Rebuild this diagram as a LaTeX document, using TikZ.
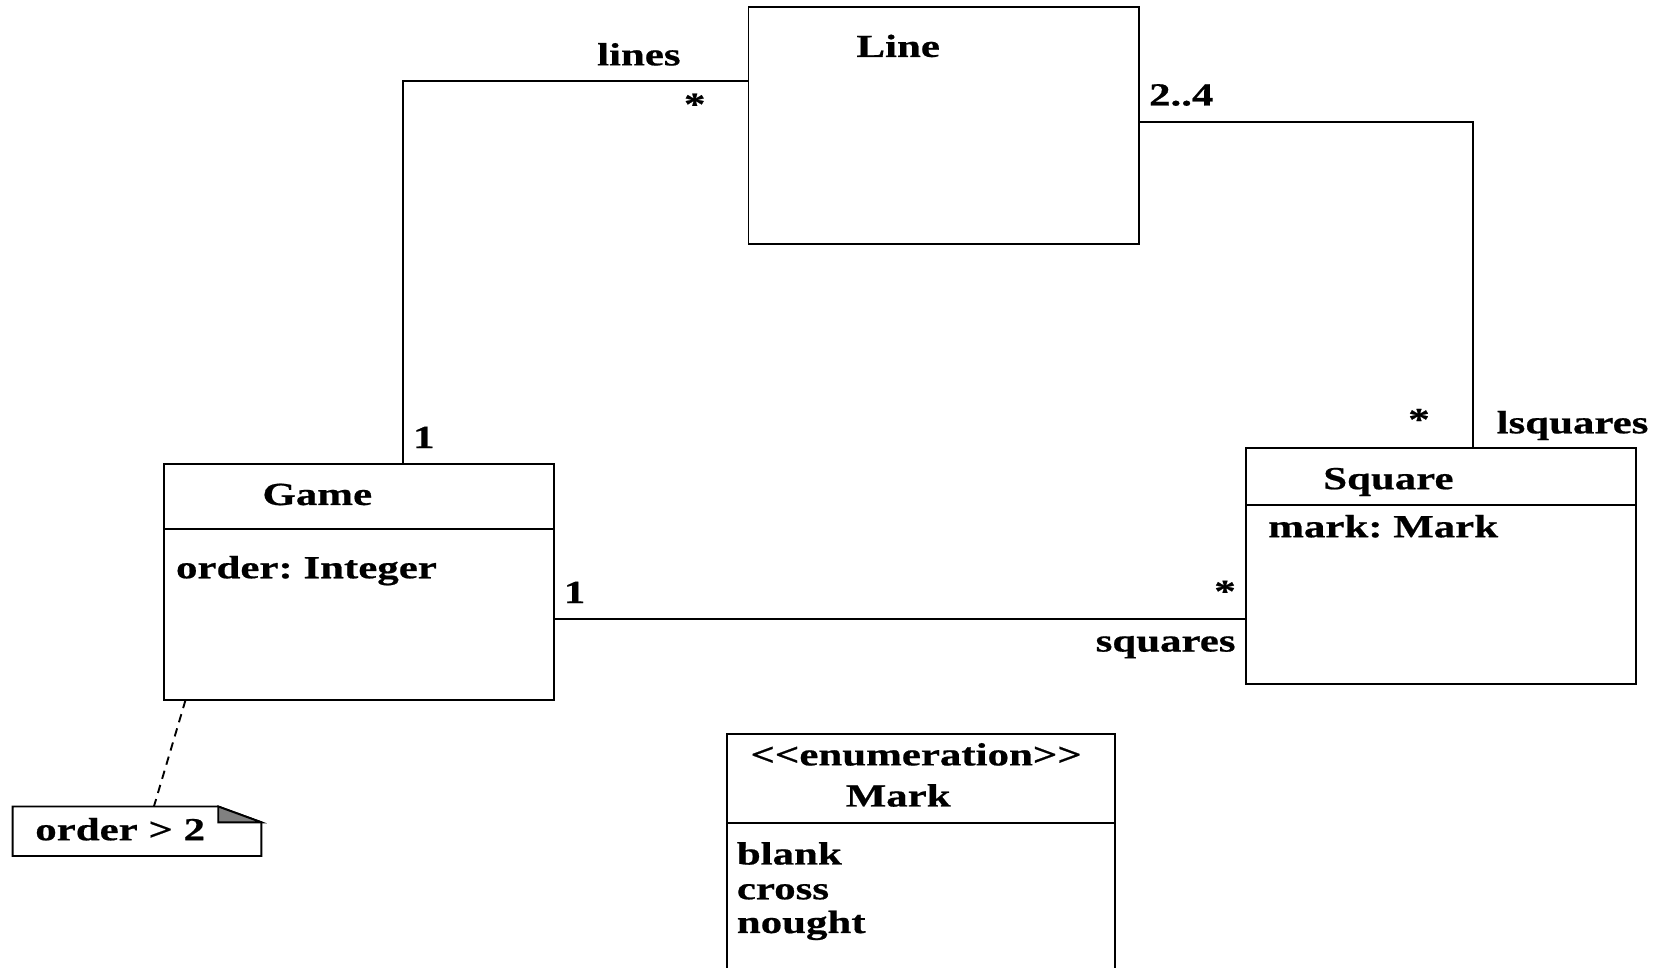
\documentclass[tikz,border=0pt]{standalone}
\usepackage{fontspec}
\setmainfont{Liberation Serif}[FakeStretch=1.334,BoldFeatures={FakeBold=0.6}]
\frenchspacing
\begin{document}
\begin{tikzpicture}[x=0.5pt,y=-0.5pt,
  line width=0.9pt,
  txt/.style={inner sep=0pt,outer sep=0pt,font=\fontsize{15.25pt}{16pt}\selectfont\bfseries},
  classbox/.style={draw,rectangle,inner sep=0pt,outer sep=0pt,minimum width=#1},
  classbox/.default=184.75pt,
  notedash/.style={dash pattern=on 4pt off 3pt}]
\useasboundingbox (0,0) rectangle (1568,918);

% class boxes
\node[classbox=185pt,minimum height=112.25pt] (line) at (895,119.25) {};
\node[classbox=184.75pt,minimum height=112pt] (game) at (340.5,552) {};
\node[classbox=184.8pt,minimum height=112pt] (square) at (1366.8,537) {};
\node[classbox=184pt,minimum height=119.5pt] (mark) at (874,815.5) {};

% compartment separators
\draw ([yshift=-31pt]game.north west) -- ([yshift=-31pt]game.north east);
\draw ([yshift=-27pt]square.north west) -- ([yshift=-27pt]square.north east);
\draw ([yshift=-42.5pt]mark.north west) -- ([yshift=-42.5pt]mark.north east);

% class names and attributes
\node[txt,anchor=base] (linename) at (852,54) {Line};
\node[txt,anchor=base] (gamename) at (301,479) {Game};
\node[txt,anchor=base west] (gameattr) at (167,548.5) {order: Integer};
\node[txt,anchor=base] (squarename) at (1317,464) {Square};
\node[txt,anchor=base west] (squareattr) at (1203,509.6) {mark: Mark};
\node[txt,anchor=base] (markstereo) at (869,726) {{<}{<}enumeration{>}{>}};
\node[txt,anchor=base] (markname) at (852,765) {Mark};
\node[txt,anchor=base west] (lit1) at (699,820) {blank};
\node[txt,anchor=base west] (lit2) at (699,853) {cross};
\node[txt,anchor=base west] (lit3) at (699,885) {nought};

% associations
\draw ([xshift=20.75pt]game.north) |- ([yshift=21.1pt]line.west);
\draw ([yshift=1.6pt]line.east) -| ([xshift=15.4pt]square.north);
\draw ([yshift=-17.5pt]game.east) -- ([yshift=-25pt]square.west);

% association ends
\node[txt,anchor=base] (l1) at (606,62) {lines};
\node[txt,anchor=base] (l2) at (659,109) {*};
\node[txt,anchor=base] (l3) at (402,425) {1};
\node[txt,anchor=base west] (l4) at (1090,100) {2..4};
\node[txt,anchor=base] (l5) at (1346,408) {*};
\node[txt,anchor=base west] (l6) at (1419.7,411) {lsquares};
\node[txt,anchor=base] (l7) at (545,572) {1};
\node[txt,anchor=base] (l8) at (1162,571) {*};
\node[txt,anchor=base east] (l9) at (1172,618) {squares};

% constraint note
\coordinate (nA) at (12,765);
\coordinate (nB) at (207,765);
\coordinate (nC) at (248,780);
\coordinate (nD) at (248,812);
\coordinate (nE) at (12,812);
\coordinate (nF) at (207,780);
\coordinate (ntop) at (146,765);
\draw (nA) -- (nB) -- (nC) -- (nD) -- (nE) -- cycle;
\draw[fill=gray] (nB) -- (nF) -- (nC) -- cycle;
\node[txt,anchor=base] (notetext) at (114,797) {order > 2};
\draw[notedash] ([xshift=-82.25pt]game.south) -- (ntop);
\end{tikzpicture}
\end{document}
